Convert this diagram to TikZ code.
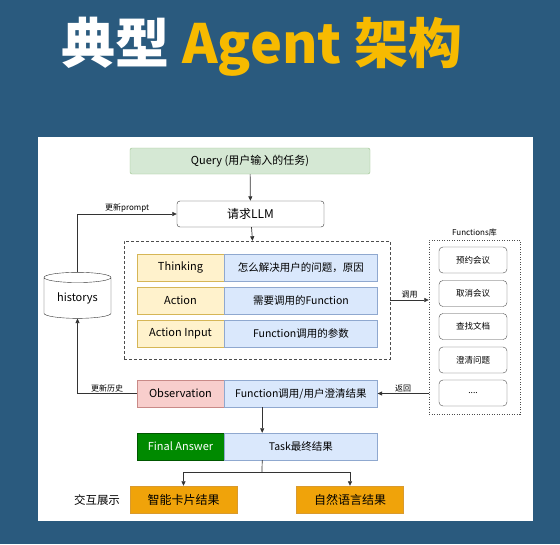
\documentclass[tikz,border=0pt]{standalone}
\usepackage{fontspec}
\setmainfont{Noto Sans CJK SC}
\usetikzlibrary{positioning,shapes.geometric,arrows.meta}

\definecolor{bgblue}{RGB}{42,90,126}
\definecolor{titleyellow}{RGB}{247,186,0}
\definecolor{qfill}{HTML}{D5E8D4}
\definecolor{qline}{HTML}{9CC38C}
\definecolor{ofill}{HTML}{FFF2CC}
\definecolor{oline}{HTML}{D6B656}
\definecolor{bfill}{HTML}{DAE8FC}
\definecolor{bline}{HTML}{8FA8CF}
\definecolor{pfill}{HTML}{F8CECC}
\definecolor{pline}{HTML}{C98A87}
\definecolor{gfill}{HTML}{008A00}
\definecolor{gline}{HTML}{005700}
\definecolor{afill}{HTML}{F0A30A}
\definecolor{aline}{HTML}{D99A2E}

\newcommand\fsz[1]{\fontsize{#1}{#1}\selectfont}

\tikzset{
    line/.style={line width=0.7pt, draw=black!80},
    arr/.style={line, -{Triangle[length=4.5pt,width=4pt]}},
    note/.style={font=\fsz{8}, inner sep=1.5pt},
    qbox/.style={draw=qline, fill=qfill, rounded corners=2pt, minimum width=240pt, minimum height=26pt, font=\fsz{11}},
    llmbox/.style={draw=black!80, fill=white, rounded corners=3pt, minimum width=147pt, minimum height=26pt, font=\fsz{12}},
    lcell/.style={draw=oline, fill=ofill, minimum width=87pt, minimum height=27pt, inner sep=0pt, font=\fsz{11}},
    rcell/.style={draw=bline, fill=bfill, minimum width=153pt, minimum height=27pt, inner sep=0pt, font=\fsz{10.5}},
    obscell/.style={lcell, draw=pline, fill=pfill},
    fincell/.style={lcell, draw=gline, fill=gfill, text=white},
    outbox/.style={draw=aline, fill=afill, minimum width=107pt, minimum height=27pt, font=\fsz{12}},
    reactbox/.style={draw=black!70, dash pattern=on 3pt off 2pt, minimum width=266pt, minimum height=118pt},
    funcsbox/.style={draw=black!70, dash pattern=on 1pt off 1.5pt, minimum width=91pt, minimum height=174pt},
    fbox/.style={draw=black!70, fill=white, rounded corners=4pt, minimum width=68pt, minimum height=26pt, font=\fsz{8.5}},
    histbox/.style={cylinder, shape border rotate=90, draw=black!80, fill=white, aspect=0.25, minimum width=67pt, minimum height=46pt, inner sep=0pt, font=\fsz{11}},
}

\begin{document}
\begin{tikzpicture}[x=1pt,y=-1pt]
    \useasboundingbox (0,0) rectangle (560,544);
    \fill[bgblue] (0,0) rectangle (560,544);
    \fill[white] (38,137) rectangle (533,521);
    \node (title) at (262,47) {\fsz{54}\bfseries\textcolor{white}{典型} \textcolor{titleyellow}{Agent 架构}};

    \node[qbox] (query) at (250,161) {Query (用户输入的任务)};
    \node[llmbox] (llm) at (250.5,214) {请求LLM};

    % thought loop
    \node[reactbox] (react) at (257,300) {};
    \node[lcell] (think) at (180.5,267.5) {Thinking};
    \node[rcell, right=0pt of think] (thinkres) {怎么解决用户的问题，原因};
    \node[lcell] (act) at (180.5,300.5) {Action};
    \node[rcell, right=0pt of act] (actres) {需要调用的Function};
    \node[lcell] (input) at (180.5,333.5) {Action Input};
    \node[rcell, right=0pt of input] (inputres) {Function调用的参数};

    \node[obscell] (obs) at (180.5,393.5) {Observation};
    \node[rcell, right=0pt of obs] (obsres) {Function调用/用户澄清结果};
    \node[fincell] (fin) at (180.5,446.5) {Final Answer};
    \node[rcell, right=0pt of fin] (finres) {Task最终结果};

    \node[outbox] (card) at (183.5,499.5) {智能卡片结果};
    \node[outbox] (nat) at (350,499.5) {自然语言结果};
    \node[font=\fsz{11.5}] (show) at (97,500) {交互展示};

    \node[histbox] (hist) at (77.5,298) {historys};

    % functions
    \node[funcsbox] (funcs) at (474.5,327) {};
    \node[note, above=2pt of funcs] (funcslabel) {Functions库};
    \foreach \y/\name/\txt in {260/f1/预约会议, 293.5/f2/取消会议, 326.5/f3/查找文档, 360/f4/澄清问题}
        \node[fbox] (\name) at (473,\y) {\txt};
    \node[fbox] (f5) at (473,393) {....};

    \draw[arr] (query) -- (llm);
    \draw[arr] (llm) -- (react);
    \draw[arr] (hist.north) |- node[note, pos=0.75, above] {更新prompt} (llm.west);
    \draw[arr] (obs.west) -| node[note, pos=0.25, above] {更新历史} (hist.south);
    \draw[arr] (react.east) -- node[note, above] {调用} (react.east -| funcs.west);
    \draw[arr] (obsres.east -| funcs.west) -- node[note, above] {返回} (obsres.east);

    \coordinate (split) at (262,472);
    \draw[arr] ([xshift=38pt]obs.south east) -- ([xshift=38pt]fin.north east);
    \draw[line] ([xshift=38pt]fin.south east) -- (split);
    \draw[arr] (split) -| (card.north);
    \draw[arr] (split) -| (nat.north);
\end{tikzpicture}
\end{document}
